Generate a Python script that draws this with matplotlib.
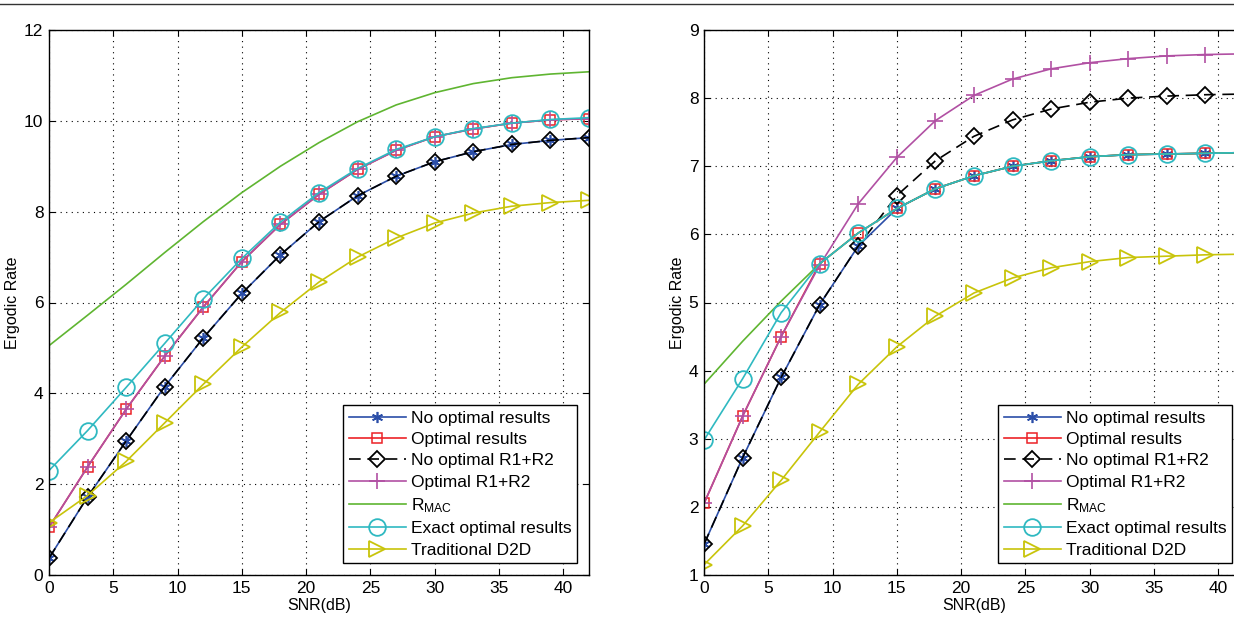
import matplotlib
matplotlib.use('Agg')
import matplotlib.pyplot as plt
from matplotlib.lines import Line2D

plt.rcParams['font.family'] = ['Liberation Sans', 'DejaVu Sans']
plt.rcParams['mathtext.default'] = 'regular'

snr = [0, 3, 6, 9, 12, 15, 18, 21, 24, 27, 30, 33, 36, 39, 42]

# left panel
noopt_L = [0.37, 1.72, 2.95, 4.15, 5.22, 6.2, 7.05, 7.78, 8.35, 8.78, 9.1, 9.32, 9.48, 9.57, 9.63]
opt_L = [1.05, 2.38, 3.65, 4.82, 5.9, 6.9, 7.72, 8.38, 8.93, 9.35, 9.65, 9.82, 9.95, 10.02, 10.05]
noopt_sum_L = [0.37, 1.72, 2.95, 4.15, 5.22, 6.2, 7.05, 7.78, 8.35, 8.78, 9.1, 9.32, 9.48, 9.57, 9.63]
opt_sum_L = [1.05, 2.38, 3.65, 4.82, 5.9, 6.9, 7.72, 8.38, 8.93, 9.35, 9.65, 9.82, 9.95, 10.02, 10.05]
rmac_L = [5.05, 5.72, 6.4, 7.1, 7.78, 8.42, 9.0, 9.52, 9.98, 10.35, 10.62, 10.82, 10.95, 11.03, 11.08]
exact_L = [2.3, 3.18, 4.13, 5.1, 6.08, 6.97, 7.77, 8.42, 8.95, 9.37, 9.65, 9.83, 9.95, 10.03, 10.07]
d2d_L = [1.15, 1.75, 2.5, 3.35, 4.2, 5.02, 5.78, 6.45, 7.0, 7.42, 7.75, 7.97, 8.12, 8.2, 8.25]

# right panel
noopt_R = [1.45, 2.72, 3.9, 4.97, 5.83, 6.38, 6.67, 6.86, 7.0, 7.08, 7.14, 7.17, 7.18, 7.19, 7.2]
opt_R = [2.05, 3.33, 4.5, 5.57, 6.02, 6.38, 6.67, 6.86, 7.0, 7.08, 7.14, 7.17, 7.18, 7.19, 7.2]
noopt_sum_R = [1.45, 2.72, 3.9, 4.97, 5.83, 6.57, 7.08, 7.44, 7.68, 7.84, 7.94, 8.0, 8.03, 8.05, 8.06]
opt_sum_R = [2.05, 3.33, 4.5, 5.55, 6.45, 7.13, 7.67, 8.04, 8.28, 8.43, 8.52, 8.58, 8.62, 8.64, 8.65]
rmac_R = [3.8, 4.43, 5.02, 5.57, 6.02, 6.38, 6.67, 6.86, 7.0, 7.08, 7.14, 7.17, 7.18, 7.19, 7.2]
exact_R = [2.98, 3.88, 4.85, 5.57, 6.02, 6.38, 6.67, 6.86, 7.0, 7.08, 7.14, 7.17, 7.18, 7.19, 7.2]
d2d_R = [1.15, 1.72, 2.39, 3.1, 3.8, 4.35, 4.8, 5.14, 5.36, 5.51, 5.6, 5.66, 5.68, 5.7, 5.71]

labels = ['No optimal results', 'Optimal results', 'No optimal R1+R2',
          'Optimal R1+R2', r'$R_{MAC}$', 'Exact optimal results', 'Traditional D2D']

blue = '#2b4ea8'
red = '#ec2227'
purple = '#b150a3'
green = '#5fb531'
cyan = '#2fb9c1'
yellow = '#c8c40a'


def panel(ax, series, ylim, yticks):
    noopt, opt, noopt_sum, opt_sum, rmac, exact, d2d = series
    lw = 1.2
    ax.plot(snr, noopt, '-', color=blue, lw=lw, marker=(6, 2, 0), ms=8, mec=blue, mew=1.2, label=labels[0])
    ax.plot(snr, opt, '-', color=red, lw=lw, marker='s', ms=7, mfc='none', mec=red, mew=1.1, label=labels[1])
    ax.plot(snr, noopt_sum, '--', color='black', lw=lw, marker='D', ms=8, mfc='none', mec='black', mew=1.3,
            dashes=(7, 4), label=labels[2])
    ax.plot(snr, opt_sum, '-', color=purple, lw=lw, marker='+', ms=12, mec=purple, mew=1.2, label=labels[3])
    ax.plot(snr, rmac, '-', color=green, lw=lw, label=labels[4])
    ax.plot(snr, exact, '-', color=cyan, lw=lw, marker='o', ms=12, mfc='none', mec=cyan, mew=1.3, label=labels[5])
    ax.plot(snr, d2d, '-', color=yellow, lw=lw, marker='>', ms=12, mfc='none', mec=yellow, mew=1.3, label=labels[6])
    ax.set_xlim(0, 42)
    ax.set_ylim(*ylim)
    ax.set_xticks(range(0, 41, 5))
    ax.set_yticks(yticks)
    ax.grid(True, linestyle=(0, (1, 4)), color='black', lw=0.8)
    ax.tick_params(direction='in', top=True, right=True, labelsize=12.5, length=4, pad=4)
    for s in ax.spines.values():
        s.set_linewidth(1.0)
    ax.set_xlabel('SNR(dB)', fontsize=11.5, labelpad=2)
    ax.set_ylabel('Ergodic Rate', fontsize=11.5, labelpad=3)
    leg = ax.legend(loc='lower right', fontsize=12.5, handlelength=3.3, labelspacing=0.36,
                    borderpad=0.3, handletextpad=0.3, borderaxespad=0.7, fancybox=False,
                    framealpha=1, edgecolor='black')
    leg.get_frame().set_linewidth(1.0)


fig = plt.figure(figsize=(12.34, 6.21), dpi=100)
axL = fig.add_axes([49 / 1234, 1 - 575 / 621, 540 / 1234, 545 / 621])
axR = fig.add_axes([704 / 1234, 1 - 575 / 621, 540 / 1234, 545 / 621])

panel(axL, [noopt_L, opt_L, noopt_sum_L, opt_sum_L, rmac_L, exact_L, d2d_L], (0, 12), range(0, 13, 2))
panel(axR, [noopt_R, opt_R, noopt_sum_R, opt_sum_R, rmac_R, exact_R, d2d_R], (1, 9), range(1, 10))

fig.add_artist(Line2D([0, 1], [1 - 4 / 621, 1 - 4 / 621], color='#333333', lw=1.0))

fig.savefig('out.png', dpi=100)
